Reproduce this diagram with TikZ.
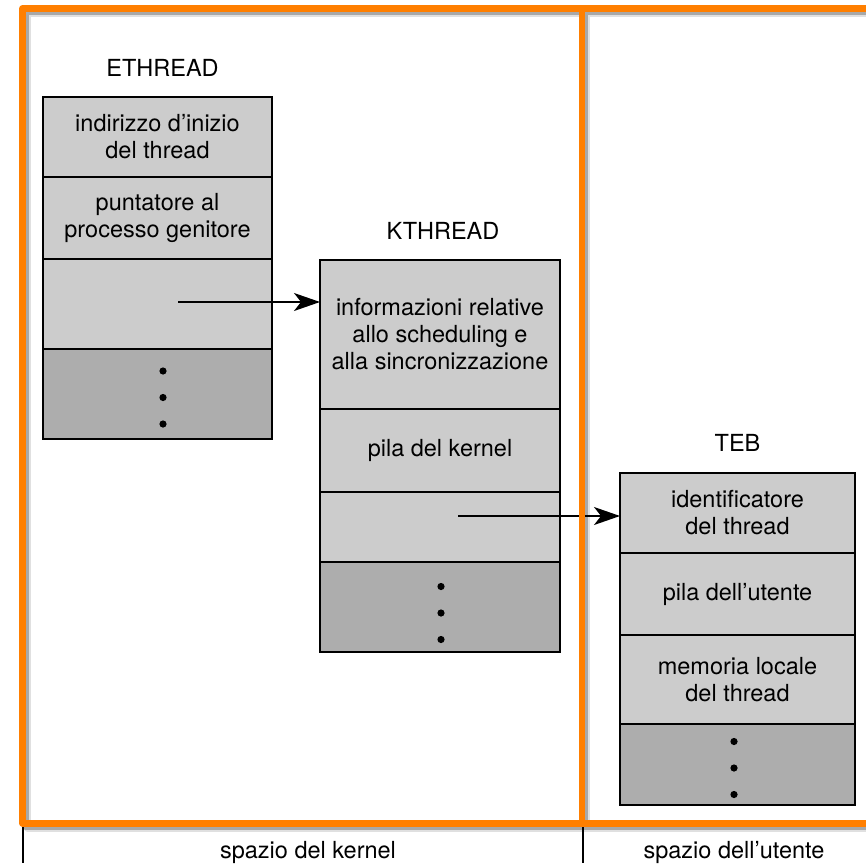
\documentclass[tikz,border=0pt]{standalone}
\usepackage{fontspec}
\setmainfont{TeX Gyre Heros}
\usepackage{xcolor}
\usepackage{tikz}
\usetikzlibrary{arrows.meta,positioning,calc}
\definecolor{cellgray}{HTML}{CCCCCC}
\definecolor{moregray}{HTML}{ADADAD}
\definecolor{frameorange}{HTML}{FF7F00}
\newcommand{\cellfont}{\fontsize{23.5pt}{27pt}\selectfont}
\tikzset{
  cell/.style={rectangle,draw=black,line width=1.2pt,fill=cellgray,outer sep=0pt,
               inner sep=0pt,align=center,font=\cellfont},
  ecell/.style={cell,minimum width=229pt},
  kcell/.style={cell,minimum width=240pt},
  tcell/.style={cell,minimum width=235pt},
  more/.style={fill=moregray},
  title/.style={inner sep=0pt,font=\cellfont},
  ptr/.style={-{Stealth[length=26pt,width=18pt,inset=7pt]},line width=1.3pt},
  divline/.style={draw=black,line width=1.2pt},
  frame/.style={draw=frameorange,line width=6.5pt,line join=round},
  shade/.style={draw=black,line width=6.5pt,line join=round},
}

\begin{document}
\begin{tikzpicture}[x=1pt,y=-1pt]
\useasboundingbox (0,0) rectangle (866,867);
\clip (0,0) rectangle (866,867);

% ETHREAD
\node[ecell,minimum height=80pt,anchor=north west] (e1) at (43,97) {indirizzo d’inizio\\del thread};
\node[ecell,minimum height=82pt,below=0pt of e1] (e2) {puntatore al\\processo genitore};
\node[ecell,minimum height=90pt,below=0pt of e2] (e3) {};
\node[ecell,more,minimum height=90pt,below=0pt of e3] (e4) {};
\node[title,above=20pt of e1,xshift=5pt] (ethl) {ETHREAD};

% KTHREAD
\node[kcell,minimum height=149pt,anchor=north west] (k1) at (320,260) {informazioni relative\\allo scheduling e\\alla sincronizzazione};
\node[kcell,minimum height=83pt,below=0pt of k1] (k2) {pila del kernel};
\node[kcell,minimum height=70pt,below=0pt of k2] (k3) {};
\node[kcell,more,minimum height=90pt,below=0pt of k3] (k4) {};
\node[title,above=20pt of k1,xshift=3pt] (kthl) {KTHREAD};

% TEB
\node[tcell,minimum height=80pt,anchor=north west] (t1) at (620,473) {identificatore\\del thread};
\node[tcell,minimum height=82pt,below=0pt of t1] (t2) {pila dell’utente};
\node[tcell,minimum height=89pt,below=0pt of t2] (t3) {memoria locale\\del thread};
\node[tcell,more,minimum height=81pt,below=0pt of t3] (t4) {};
\node[title,above=21pt of t1] (tebl) {TEB};

\foreach \c/\dx/\dy in {e4/5.5/3.5,k4/1/6,t4/-3.5/3.5}
  \foreach \k in {-1,0,1}
    \fill ($(\c.center)+(\dx,\dy+26.5*\k)$) circle (3.6pt);

\coordinate (eptr) at (178,302);
\draw[ptr] (eptr) -- (eptr -| k1.west);
\coordinate (kptr) at (458,516);
\draw[ptr] (kptr) -- (kptr -| t1.west);

\draw[divline] (23,824) -- (23,863);
\draw[divline] (583,824) -- (583,863);
\node[title] (kspace) at (308,852) {spazio del kernel};
\node[title] (uspace) at (734,852) {spazio dell’utente};

\foreach \s/\o in {5/0.12,3/0.25}{
  \begin{scope}[shift={(\s,\s)},opacity=\o]
    \draw[shade] (22.5,8.5) rectangle (880,823.5) (582,8.5) -- (582,823.5);
  \end{scope}
}
\draw[frame] (22.5,8.5) rectangle (880,823.5) (582,8.5) -- (582,823.5);
\end{tikzpicture}
\end{document}
